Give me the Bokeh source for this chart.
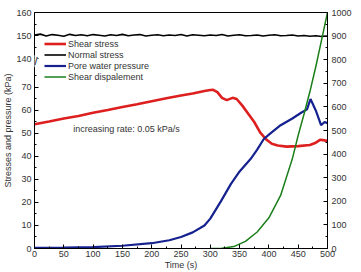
from math import pi
from bokeh.plotting import figure
from bokeh.models import (Range1d, LinearAxis, FixedTicker, Legend, LegendItem, Label)
from bokeh.embed import file_html
from bokeh.resources import INLINE

# ---------------- data ----------------
time_shear = [0, 25, 50, 75, 100, 125, 150, 175, 200, 225, 250, 270, 290, 300, 305, 312,
              320, 328, 338, 345, 355, 365, 375, 385, 395, 405, 415, 430, 450, 470, 480,
              488, 495, 500]
shear_stress = [54.0, 55.2, 56.5, 57.6, 59.0, 60.2, 61.5, 62.7, 64.0, 65.3, 66.5, 67.4, 68.5,
                68.9, 69.0, 68.0, 65.5, 64.5, 65.5, 65.0, 62.0, 58.5, 55.0, 50.5, 47.5,
                45.5, 44.8, 44.3, 44.5, 45.0, 46.0, 47.3, 47.0, 46.8]

time_normal = list(range(0, 501, 10))
normal_stress = [150.2, 150.6, 149.8, 150.4, 150.1, 149.7, 150.5, 150.0, 150.3, 149.9,
                 150.4, 150.1, 149.8, 150.3, 150.0, 150.5, 149.9, 150.2, 150.4, 149.8,
                 150.1, 150.3, 149.9, 150.2, 150.0, 150.4, 149.8, 150.3, 150.1, 149.9,
                 150.2, 150.0, 150.4, 149.8, 150.1, 150.3, 149.9, 150.0, 150.2, 149.8,
                 150.1, 150.3, 149.9, 150.0, 150.2, 149.8, 150.0, 149.7, 149.9, 149.6, 149.8]

time_pore = [0, 50, 100, 150, 200, 230, 250, 270, 290, 300, 318, 335, 350, 369, 380, 391,
             400, 420, 440, 455, 465, 471, 480, 489, 495, 500]
pore_pressure = [0.3, 0.4, 0.6, 1.2, 2.3, 3.6, 5.0, 7.0, 10.0, 13.0, 20.5, 28.0, 33.5, 39.0,
                 43.0, 47.5, 49.5, 53.6, 56.5, 59.0, 60.5, 65.0, 60.0, 53.6, 55.0, 54.5]

time_disp = [300, 320, 340, 360, 380, 400, 420, 440, 450, 460, 470, 480, 490, 500]
shear_disp = [0, 1, 8, 30, 70, 130, 225, 380, 480, 570, 665, 770, 885, 1000]

x_ticks = list(range(0, 501, 50))
x_minor = list(range(25, 500, 50))
lower_ticks = [0, 10, 20, 30, 40, 50, 60, 70]
lower_minor = [5, 15, 25, 35, 45, 55, 65, 75]
upper_ticks = [140, 150, 160]
upper_minor = [145, 155]
right_ticks = list(range(0, 1001, 100))
right_minor = list(range(50, 1000, 100))

# broken axis: values >= 140 are shifted down to sit just above the 0-70 segment
UPPER_BASE = 140
UPPER_AT = 82.6


def tr(v):
    return v if v < 100 else v - UPPER_BASE + UPPER_AT


FONT = "Liberation Sans"
TXT = "#333333"

p = figure(width=361, height=272, x_range=Range1d(0, 500), y_range=Range1d(0, tr(160)),
           output_backend="svg", toolbar_location=None,
           min_border_left=33, min_border_right=34, min_border_top=12, min_border_bottom=24)
p.extra_y_ranges = {"disp": Range1d(0, 1000)}
p.xgrid.visible = False
p.ygrid.visible = False
p.outline_line_color = "black"
p.outline_line_width = 1
p.background_fill_color = "white"
p.border_fill_color = "white"

r_shear = p.line(time_shear, shear_stress, line_color="#dd1f1f", line_width=2.6)
r_normal = p.line(time_normal, [tr(v) for v in normal_stress], line_color="black", line_width=1.6)
r_pore = p.line(time_pore, pore_pressure, line_color="#14218f", line_width=2.2)
r_disp = p.line(time_disp, shear_disp, line_color="#1a7f1a", line_width=1.5, y_range_name="disp")


def style(ax):
    ax.axis_line_color = "black"
    ax.major_tick_line_color = "black"
    ax.minor_tick_line_color = "black"
    ax.major_tick_in = 4
    ax.major_tick_out = 0
    ax.minor_tick_in = 2
    ax.minor_tick_out = 0
    ax.major_label_text_font = FONT
    ax.major_label_text_font_size = "9px"
    ax.major_label_text_color = TXT
    ax.axis_label_text_font = FONT
    ax.axis_label_text_font_size = "9px"
    ax.axis_label_text_font_style = "normal"
    ax.axis_label_text_color = TXT
    ax.major_label_standoff = 3
    ax.axis_label_standoff = 0


# x axis
xa = p.xaxis[0]
xa.ticker = FixedTicker(ticks=x_ticks, minor_ticks=x_minor)
xa.axis_label = "Time (s)"
style(xa)
xa.major_label_standoff = 2

# left broken axis
ya = p.yaxis[0]
ya.ticker = FixedTicker(ticks=[tr(v) for v in lower_ticks + upper_ticks],
                        minor_ticks=[tr(v) for v in lower_minor + upper_minor])
ya.major_label_overrides = {tr(v): str(v) for v in lower_ticks + upper_ticks}
ya.axis_label = "Stresses and pressure (kPa)"
style(ya)

# right axis
ra = LinearAxis(y_range_name="disp", ticker=FixedTicker(ticks=right_ticks, minor_ticks=right_minor))
style(ra)
ra.major_label_standoff = 4
p.add_layout(ra, "right")

# right axis title (reads bottom-to-top as in the reference)
p.add_layout(Label(x=537, y=51.5, text="Shear dispalement (mm)", angle=pi / 2,
                   text_align="center", text_baseline="middle", text_font=FONT,
                   text_font_size="9px", text_color=TXT))

# axis-break mark
p.add_layout(Label(x=0, y=tr(140) - 1.2, text="//", text_align="center",
                   text_baseline="middle", text_font=FONT, text_font_size="11px",
                   text_color="#111111", background_fill_color="white",
                   background_fill_alpha=1.0, padding=0))

# annotation
p.add_layout(Label(x=66, y=52, text="increasing rate: 0.05 kPa/s", text_align="left",
                   text_baseline="middle", text_font=FONT, text_font_size="9px",
                   text_color=TXT))

legend = Legend(items=[LegendItem(label="Shear stress", renderers=[r_shear]),
                       LegendItem(label="Normal stress", renderers=[r_normal]),
                       LegendItem(label="Pore water pressure", renderers=[r_pore]),
                       LegendItem(label="Shear dispalement", renderers=[r_disp])],
                location=(10, 166), padding=0, margin=0, spacing=0,
                label_height=11, glyph_height=11, glyph_width=22, label_standoff=2,
                label_text_font=FONT, label_text_font_size="9px", label_text_color=TXT,
                border_line_color=None, background_fill_alpha=0)
p.add_layout(legend)

open("out.html", "w").write(file_html(p, INLINE))
